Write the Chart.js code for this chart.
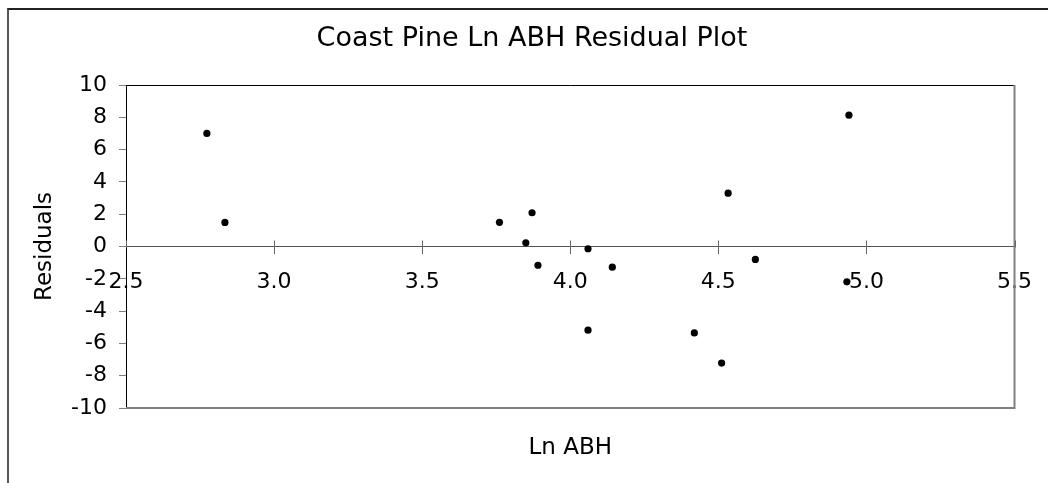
<!DOCTYPE html>
<html>
<head>
<meta charset="utf-8">
<title>Coast Pine Ln ABH Residual Plot</title>
<script src="https://cdn.jsdelivr.net/npm/chart.js@4.4.1/dist/chart.umd.min.js"></script>
<style>
    html, body { margin: 0; padding: 0; background: #fff; overflow: hidden; }
    #wrap { position: relative; width: 1048px; height: 483px; }
    #frame {
        position: absolute; left: 7px; top: 8px; width: 1200px; height: 700px;
        border-top: 2px solid #222; border-left: 2px solid #555;
    }
    #chart { position: absolute; left: 0; top: 0; }
</style>
</head>
<body>
<div id="wrap">
    <div id="frame"></div>
    <canvas id="chart" width="1048" height="483"></canvas>
</div>
<script>
// valores
const lnAbh = [2.773, 2.834, 3.761, 3.871, 3.850, 3.891, 4.060, 4.142, 4.060, 4.419, 4.511, 4.533, 4.625, 4.941, 4.934];
const residuals = [7.00, 1.49, 1.50, 2.09, 0.23, -1.16, -0.14, -1.28, -5.18, -5.35, -7.22, 3.30, -0.80, 8.13, -2.19];

const xMin = 2.5, xMax = 5.5, xStep = 0.5;
const yMin = -10, yMax = 10, yStep = 2;

const points = lnAbh.map((x, i) => ({ x: x, y: residuals[i] }));

const fontName = "'DejaVu Sans', Verdana, sans-serif";

// moldura da área do gráfico e ticks que cruzam o eixo x
const frameEstilo = {
    id: 'frameEstilo',
    beforeDatasetsDraw(chart) {
        const { ctx, chartArea, scales } = chart;
        ctx.save();
        // topo preto fino
        ctx.strokeStyle = '#000';
        ctx.lineWidth = 1;
        ctx.beginPath();
        ctx.moveTo(chartArea.left, chartArea.top + 0.5);
        ctx.lineTo(chartArea.right, chartArea.top + 0.5);
        ctx.stroke();
        // direita e base cinza
        ctx.strokeStyle = '#808080';
        ctx.lineWidth = 2;
        ctx.beginPath();
        ctx.moveTo(chartArea.right, chartArea.top);
        ctx.lineTo(chartArea.right, chartArea.bottom);
        ctx.lineTo(chartArea.left, chartArea.bottom);
        ctx.stroke();
        // metade de cima dos ticks do eixo x
        const y0 = Math.round(scales.y.getPixelForValue(0)) + 0.5;
        ctx.strokeStyle = '#666';
        ctx.lineWidth = 1;
        scales.x.ticks.forEach(t => {
            const px = Math.round(scales.x.getPixelForValue(t.value)) + 0.5;
            ctx.beginPath();
            ctx.moveTo(px, y0 - 7);
            ctx.lineTo(px, y0);
            ctx.stroke();
        });
        ctx.restore();
    }
};

const residualChart = new Chart(document.getElementById('chart'), {
    type: 'scatter',
    data: {
        datasets: [{
            label: 'Residuals',
            data: points,
            pointRadius: 3.6,
            pointHoverRadius: 3.6,
            pointBackgroundColor: '#000',
            pointBorderWidth: 0,
            showLine: false
        }]
    },
    options: {
        responsive: false,
        animation: false,
        layout: {
            padding: { left: 49, right: 33, top: 0, bottom: 0 }
        },
        plugins: {
            legend: { display: false },
            tooltip: { enabled: false },
            title: {
                display: true,
                text: 'Coast Pine Ln ABH Residual Plot',
                color: '#000',
                font: { family: fontName, size: 27, weight: 'normal' },
                padding: { top: 23, bottom: 29.6 }
            },
            subtitle: {
                display: true,
                position: 'bottom',
                fullSize: false,
                text: 'Ln ABH',
                color: '#000',
                font: { family: fontName, size: 23, weight: 'normal' },
                padding: { top: 26, bottom: 21.4 }
            }
        },
        scales: {
            x: {
                type: 'linear',
                position: { y: 0 },
                min: xMin,
                max: xMax,
                afterFit: s => { s.height = 0; },
                border: { display: true, color: '#555', width: 1 },
                grid: { display: true, drawOnChartArea: false, drawTicks: true, tickLength: 7, color: '#666' },
                ticks: {
                    stepSize: xStep,
                    padding: 16,
                    color: '#000',
                    maxRotation: 0,
                    font: { family: fontName, size: 22 },
                    callback: v => Number(v).toFixed(1)
                }
            },
            y: {
                type: 'linear',
                position: 'left',
                min: yMin,
                max: yMax,
                afterFit: s => { s.width = 77; },
                border: { display: true, color: '#000', width: 1 },
                grid: { display: true, drawOnChartArea: false, drawTicks: true, tickLength: 7, color: '#808080' },
                ticks: {
                    stepSize: yStep,
                    padding: 12,
                    color: '#000',
                    font: { family: fontName, size: 22 }
                },
                title: {
                    display: true,
                    text: 'Residuals',
                    color: '#000',
                    font: { family: fontName, size: 23, weight: 'normal' },
                    padding: { top: -17.5, bottom: 0 }
                }
            }
        }
    },
    plugins: [frameEstilo]
});
</script>
</body>
</html>
